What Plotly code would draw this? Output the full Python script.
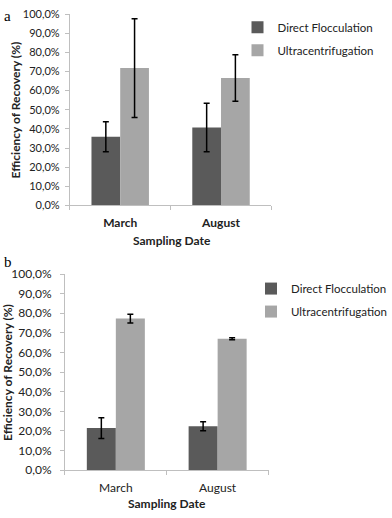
import plotly.graph_objects as go

# ---- data ----
dates = ["March", "August"]
series_names = ["Direct Flocculation", "Ultracentrifugation"]

a_df = [35.9, 40.7]
a_df_err = [7.8, 12.7]
a_uc = [71.8, 66.6]
a_uc_err = [25.8, 12.2]

b_df = [21.5, 22.4]
b_df_err = [5.3, 2.3]
b_uc = [77.3, 67.0]
b_uc_err = [2.2, 0.5]

y_tick_vals = [0, 10, 20, 30, 40, 50, 60, 70, 80, 90, 100]
y_tick_text = ["0,0%", "10,0%", "20,0%", "30,0%", "40,0%", "50,0%",
               "60,0%", "70,0%", "80,0%", "90,0%", "100,0%"]

DF_COLOR = "#5a5a5a"
UC_COLOR = "#a6a6a6"
FONT = "Lato"
W, H = 392, 518

fig = go.Figure()

def add_pair(df, dferr, uc, ucerr, xa, ya, leg):
    for name, vals, errs, col in [(series_names[0], df, dferr, DF_COLOR),
                                  (series_names[1], uc, ucerr, UC_COLOR)]:
        fig.add_trace(go.Bar(
            x=dates, y=vals, name=name, marker=dict(color=col, line=dict(width=0)),
            error_y=dict(type="data", array=errs, visible=True, color="black",
                         thickness=1.5, width=3),
            xaxis=xa, yaxis=ya, legend=leg, legendgroup=leg + name,
        ))

add_pair(a_df, a_df_err, a_uc, a_uc_err, "x", "y", "legend")
add_pair(b_df, b_df_err, b_uc, b_uc_err, "x2", "y2", "legend2")

axis_line = dict(showline=True, linecolor="#bfbfbf", linewidth=1, showgrid=False,
                 zeroline=False, ticks="outside", tickcolor="#bfbfbf", ticklen=4)

fig.update_layout(
    width=W, height=H, margin=dict(l=0, r=0, t=0, b=0),
    paper_bgcolor="white", plot_bgcolor="white",
    barmode="group", bargap=0.43, bargroupgap=0,
    font=dict(family=FONT, color="#222222"),
    xaxis=dict(domain=[72 / W, 280 / W], anchor="y", tickson="boundaries",
               ticklabelstandoff=6,
               tickfont=dict(size=12, family=FONT, weight="bold"), **axis_line),
    yaxis=dict(domain=[(H - 203.3) / H, (H - 6.3) / H], anchor="x", range=[0, 100],
               tickvals=y_tick_vals, ticktext=y_tick_text, ticklabelstandoff=3,
               tickfont=dict(size=11, family=FONT), **axis_line),
    xaxis2=dict(domain=[67 / W, 277 / W], anchor="y2", tickson="boundaries",
                ticklabelstandoff=6,
                tickfont=dict(size=12, family=FONT), **axis_line),
    yaxis2=dict(domain=[(H - 476) / H, (H - 274) / H], anchor="x2", range=[0, 100],
                tickvals=y_tick_vals, ticktext=y_tick_text, ticklabelstandoff=6,
                tickfont=dict(size=12, family=FONT), **axis_line),
    legend=dict(x=245 / W, y=1 - 5 / H, xanchor="left", yanchor="top",
                font=dict(size=11.5, family=FONT), tracegroupgap=4, traceorder="grouped",
                bgcolor="rgba(0,0,0,0)"),
    legend2=dict(x=259 / W, y=1 - 274 / H, xanchor="left", yanchor="top",
                 font=dict(size=11.5, family=FONT), tracegroupgap=4, traceorder="grouped",
                 bgcolor="rgba(0,0,0,0)"),
)

ann = []
ann.append(dict(text="a", x=2 / W, y=1 - 8 / H, xref="paper", yref="paper",
                xanchor="left", yanchor="middle", showarrow=False,
                font=dict(size=15, family="Liberation Serif", color="black")))
ann.append(dict(text="b", x=2 / W, y=1 - 262 / H, xref="paper", yref="paper",
                xanchor="left", yanchor="middle", showarrow=False,
                font=dict(size=15, family="Liberation Serif", color="black")))
ann.append(dict(text="Efficiency of Recovery (%)", x=16 / W, y=1 - 105 / H,
                xref="paper", yref="paper", textangle=-90, showarrow=False,
                xanchor="center", yanchor="middle",
                font=dict(size=12, family=FONT, weight="bold", color="#222222")))
ann.append(dict(text="Efficiency of Recovery (%)", x=7 / W, y=1 - 375 / H,
                xref="paper", yref="paper", textangle=-90, showarrow=False,
                xanchor="center", yanchor="middle",
                font=dict(size=12, family=FONT, weight="bold", color="#222222")))
ann.append(dict(text="Sampling Date", x=177 / W, y=1 - 239 / H, xref="paper", yref="paper",
                showarrow=False, xanchor="center", yanchor="middle",
                font=dict(size=12, family=FONT, weight="bold", color="#222222")))
ann.append(dict(text="Sampling Date", x=172 / W, y=1 - 510 / H, xref="paper", yref="paper",
                showarrow=False, xanchor="center", yanchor="middle",
                font=dict(size=12, family=FONT, weight="bold", color="#222222")))
fig.update_layout(annotations=ann)

fig.write_html("out.html", config={"displayModeBar": False},
               post_script="document.body.style.margin='0';document.body.style.overflow='hidden';")
